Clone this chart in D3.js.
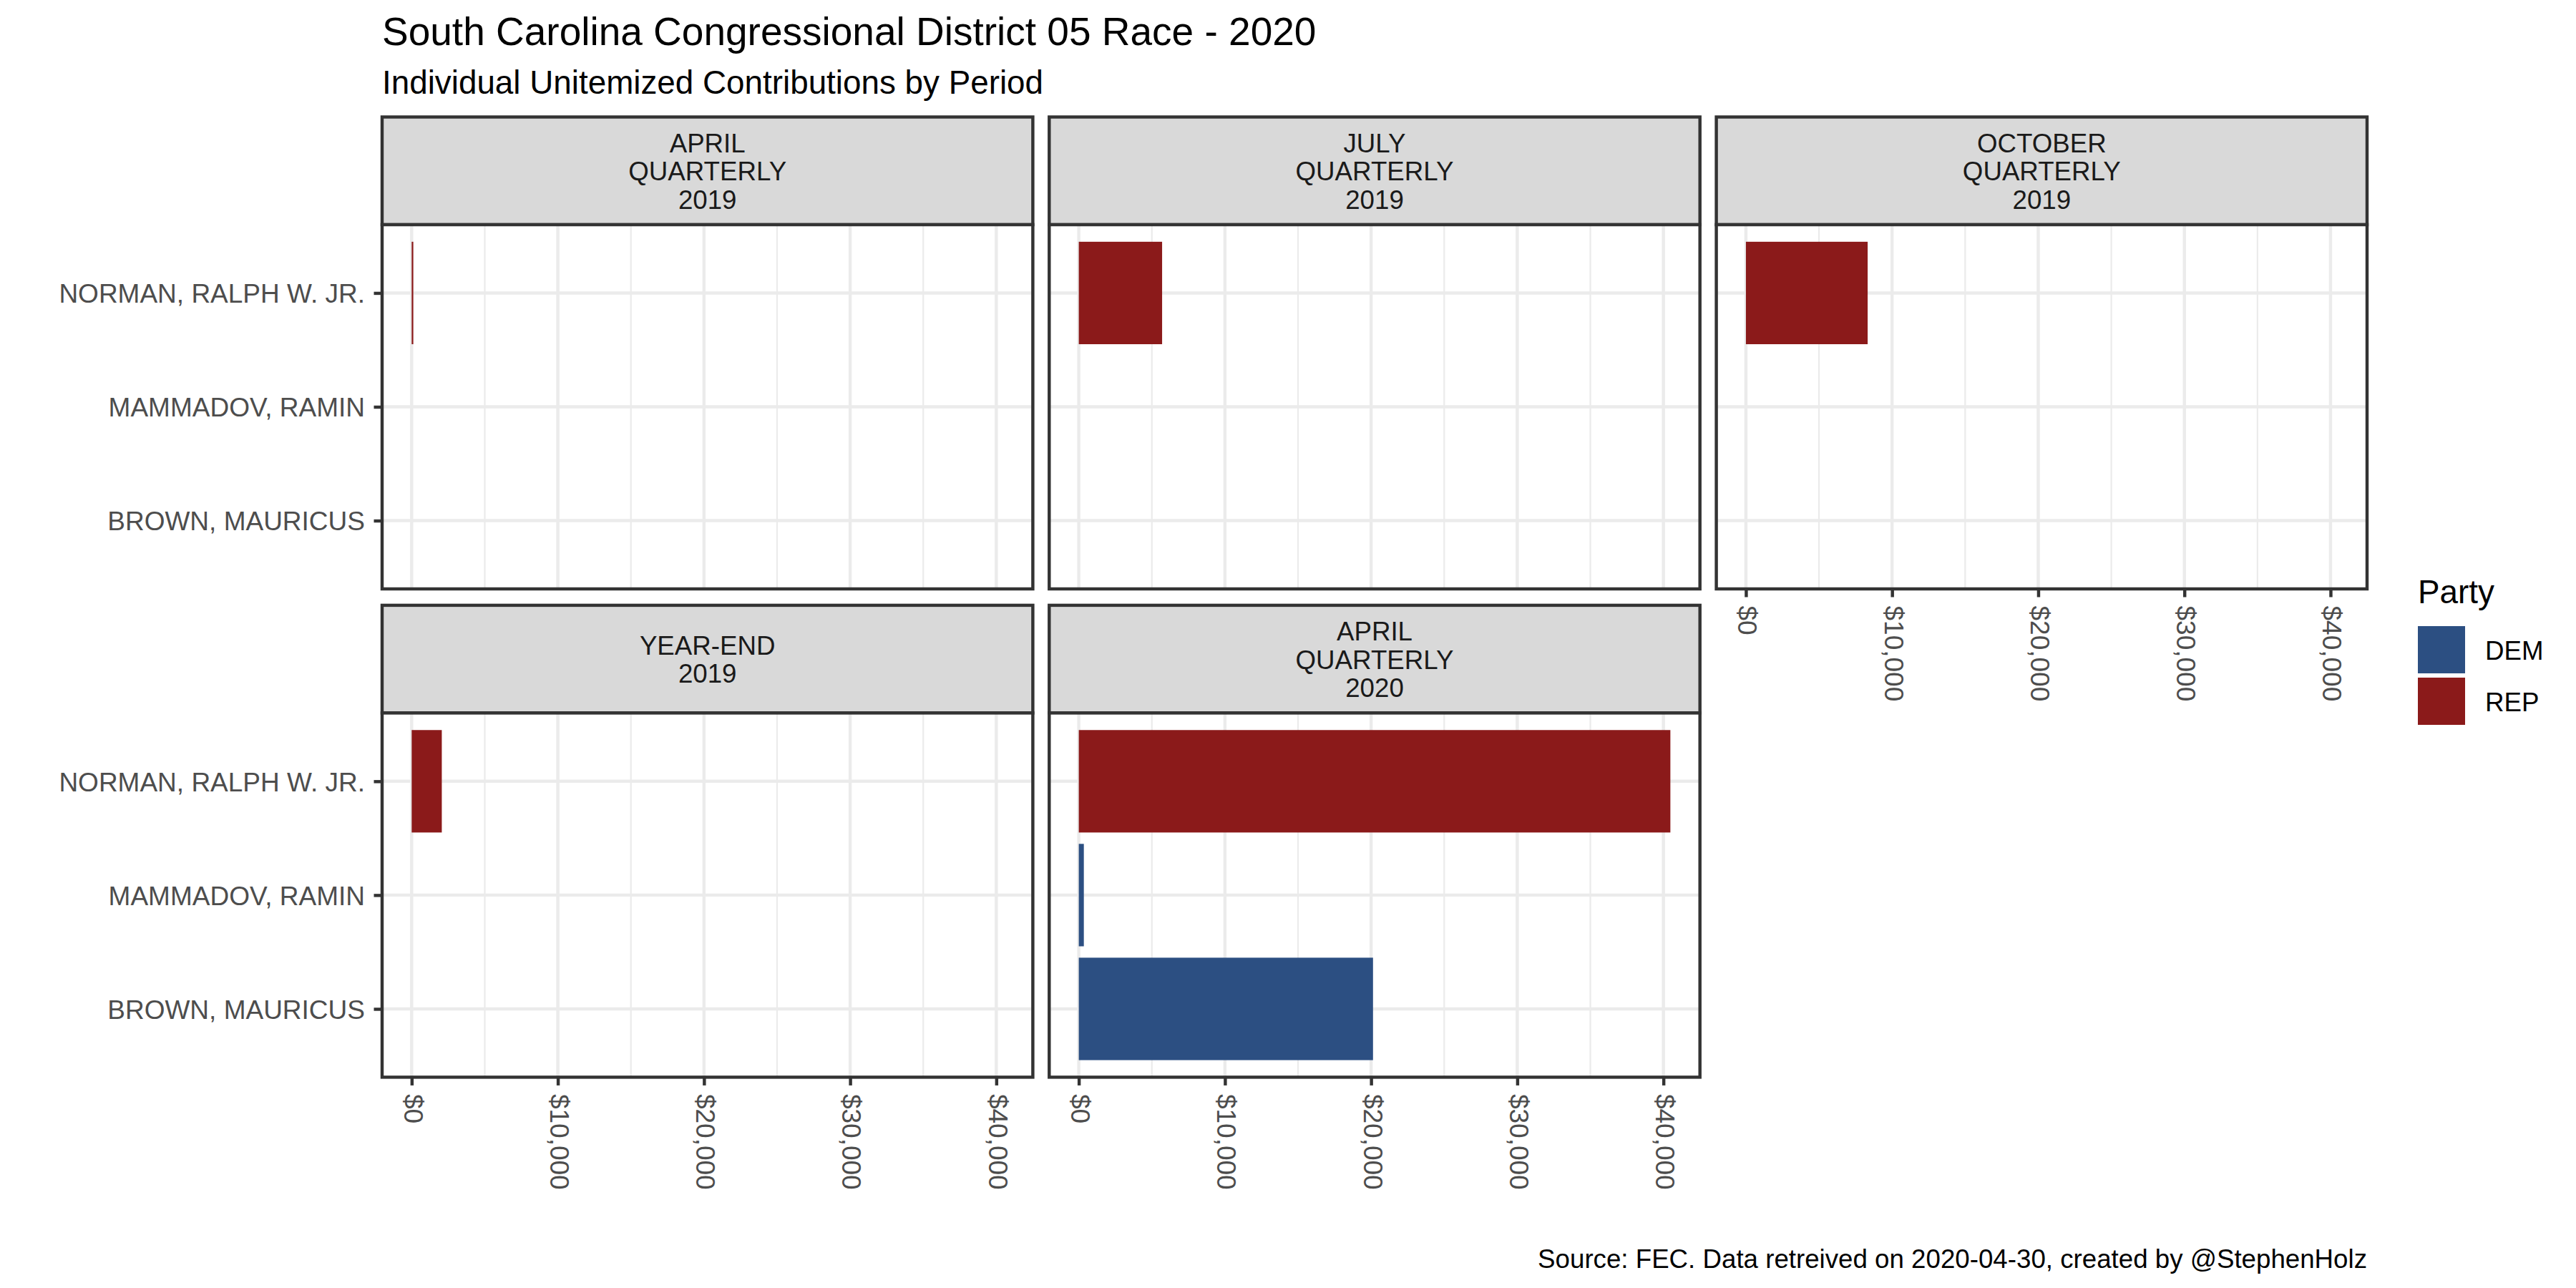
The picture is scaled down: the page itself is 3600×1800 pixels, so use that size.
<!DOCTYPE html>
<html>
<head>
<meta charset="utf-8">
<script src="https://cdn.jsdelivr.net/npm/d3@7"></script>
<style>
  html, body { margin: 0; padding: 0; background: #fff; }
  svg { display: block; font-family: "Liberation Sans", Arial, sans-serif; }
</style>
</head>
<body>
<div class="chart"></div>
<script>
// data
const periods = ["APRIL QUARTERLY 2019", "JULY QUARTERLY 2019", "OCTOBER QUARTERLY 2019", "YEAR-END 2019", "APRIL QUARTERLY 2020"];
const stripLabels = ["APRIL\nQUARTERLY\n2019", "JULY\nQUARTERLY\n2019", "OCTOBER\nQUARTERLY\n2019", "YEAR-END\n2019", "APRIL\nQUARTERLY\n2020"];
const candidates = ["NORMAN, RALPH W. JR.", "MAMMADOV, RAMIN", "BROWN, MAURICUS"];
const candidateParty = ["REP", "DEM", "DEM"];
const normanValues = [110, 5700, 8330, 2060, 40475];
const mammadovValues = [0, 0, 0, 0, 345];
const brownValues = [0, 0, 0, 0, 20130];
const xTicks = [0, 10000, 20000, 30000, 40000];
const xMinorTicks = [5000, 15000, 25000, 35000];
const parties = ["DEM", "REP"];
const partyColors = ["#2C4F82", "#8B1A1A"];

const W = 3600, H = 1800;
const left0 = 534, top0 = 163.5;
const panelW = 909.4, panelH = 509, stripH = 150.5, gap = 22.9;
const lw = 4.44, lwMinor = 2.22, tickLen = 11.5;
const axisFont = 37;

const color = d3.scaleOrdinal().domain(parties).range(partyColors);
const valuesByCand = [normanValues, mammadovValues, brownValues];

// long table: one row per period x candidate
const rows = [];
periods.forEach((p, i) => {
    candidates.forEach((c, j) => {
        rows.push({period: p, idx: i, cand: c, party: candidateParty[j], value: valuesByCand[j][i]});
    });
});

/**
 * scales (ggplot-like 5% expansion on x, 0.6 unit on discrete y)
 */
const xMax = d3.max(rows, d => d.value);
const x = d3.scaleLinear()
    .domain([-0.05 * xMax, xMax * 1.05])
    .range([0, panelW]);
const y = d3.scalePoint()
    .domain(candidates)
    .range([0, panelH])
    .padding(0.6);
const barH = 0.9 * y.step();

const svg = d3.select('.chart').append('svg')
    .attr('width', W).attr('height', H);

svg.append('rect').attr('width', W).attr('height', H).attr('fill', '#fff');

// titles
svg.append('text').attr('x', left0).attr('y', 63)
    .attr('font-size', 55).attr('fill', '#000')
    .text('South Carolina Congressional District 05 Race - 2020');
svg.append('text').attr('x', left0).attr('y', 131)
    .attr('font-size', 45.8).attr('fill', '#000')
    .text('Individual Unitemized Contributions by Period');

const ncol = 3;
periods.forEach((p, i) => {
    const col = i % ncol, row = Math.floor(i / ncol);
    const gx = left0 + col * (panelW + gap);
    const gy = top0 + row * (stripH + panelH + gap);
    const g = svg.append('g').attr('transform', `translate(${gx},${gy})`);

    // strip
    g.append('rect')
        .attr('width', panelW).attr('height', stripH)
        .attr('fill', '#D9D9D9').attr('stroke', '#333333').attr('stroke-width', lw);
    const lines = stripLabels[i].split('\n');
    const lineH = 39.5;
    const st = g.append('text')
        .attr('text-anchor', 'middle')
        .attr('font-size', 36.7).attr('fill', '#1A1A1A');
    lines.forEach((l, k) => {
        st.append('tspan')
            .attr('x', panelW / 2)
            .attr('y', stripH / 2 + 13.5 + (k - (lines.length - 1) / 2) * lineH)
            .text(l);
    });

    // panel
    const pg = g.append('g').attr('transform', `translate(0,${stripH})`);
    pg.append('rect').attr('width', panelW).attr('height', panelH).attr('fill', '#fff');

    pg.selectAll('.minor').data(xMinorTicks).enter().append('line')
        .attr('x1', d => x(d)).attr('x2', d => x(d))
        .attr('y1', 0).attr('y2', panelH)
        .attr('stroke', '#EBEBEB').attr('stroke-width', lwMinor);
    pg.selectAll('.major').data(xTicks).enter().append('line')
        .attr('x1', d => x(d)).attr('x2', d => x(d))
        .attr('y1', 0).attr('y2', panelH)
        .attr('stroke', '#EBEBEB').attr('stroke-width', lw);
    pg.selectAll('.hgrid').data(candidates).enter().append('line')
        .attr('x1', 0).attr('x2', panelW)
        .attr('y1', d => y(d)).attr('y2', d => y(d))
        .attr('stroke', '#EBEBEB').attr('stroke-width', lw);

    const data = rows.filter(d => d.idx === i && d.value > 0);
    pg.selectAll('.bar').data(data).enter().append('rect')
        .attr('x', x(0))
        .attr('width', d => x(d.value) - x(0))
        .attr('y', d => y(d.cand) - barH / 2)
        .attr('height', barH)
        .attr('fill', d => color(d.party));

    pg.append('rect')
        .attr('width', panelW).attr('height', panelH)
        .attr('fill', 'none').attr('stroke', '#333333').attr('stroke-width', lw);

    // y axis on first column
    if (col === 0) {
        const ya = pg.append('g').call(d3.axisLeft(y).tickSize(tickLen).tickPadding(12.5));
        ya.select('.domain').remove();
        ya.selectAll('.tick line').attr('stroke', '#333333').attr('stroke-width', lw);
        ya.selectAll('.tick text')
            .attr('font-size', axisFont).attr('fill', '#4D4D4D')
            .attr('font-family', '"Liberation Sans", Arial, sans-serif')
            .attr('dy', '0.36em');
    }

    // x axis where no panel below
    if (i + ncol >= periods.length) {
        const xa = pg.append('g').attr('transform', `translate(0,${panelH})`)
            .call(d3.axisBottom(x).tickValues(xTicks).tickSize(tickLen).tickFormat(d3.format('$,.0f')));
        xa.select('.domain').remove();
        xa.selectAll('.tick line').attr('stroke', '#333333').attr('stroke-width', lw);
        xa.selectAll('.tick text')
            .attr('font-size', axisFont).attr('fill', '#4D4D4D')
            .attr('font-family', '"Liberation Sans", Arial, sans-serif')
            .attr('text-anchor', 'start')
            .attr('transform', 'rotate(90)')
            .attr('x', 23.5).attr('y', 0)
            .attr('dy', '0.3em');
    }
});

// legend
const lg = svg.append('g').attr('transform', 'translate(3379,0)');
lg.append('text').attr('x', 0).attr('y', 843)
    .attr('font-size', 45.8).attr('fill', '#000').text('Party');
lg.selectAll('.key').data(parties).enter().append('rect')
    .attr('x', 0).attr('y', (d, i) => 875 + i * 72)
    .attr('width', 66).attr('height', 66)
    .attr('fill', d => color(d));
lg.selectAll('.klab').data(parties).enter().append('text')
    .attr('x', 94).attr('y', (d, i) => 875 + 33 + 14 + i * 72)
    .attr('font-size', 36.7).attr('fill', '#000')
    .text(d => d);

// caption
svg.append('text').attr('x', 3308).attr('y', 1772)
    .attr('text-anchor', 'end')
    .attr('font-size', 36.7).attr('fill', '#000')
    .text('Source: FEC. Data retreived on 2020-04-30, created by @StephenHolz');
</script>
</body>
</html>
